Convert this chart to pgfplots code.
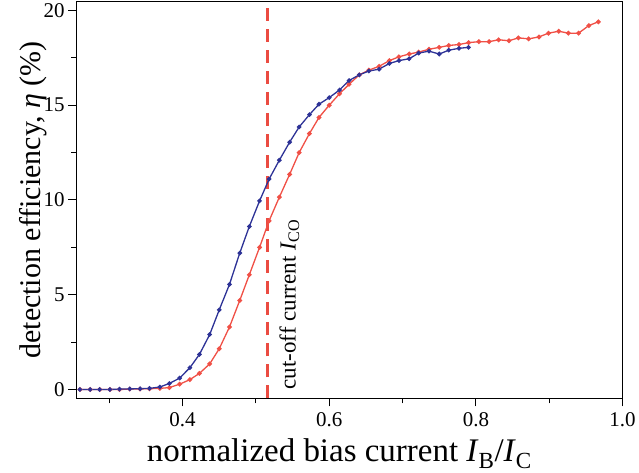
\documentclass[border=0pt]{standalone}
\usepackage{pgfplots}
\pgfplotsset{compat=1.18}
\usepackage{fontspec}
\setmainfont{Liberation Serif}

\definecolor{curveblue}{RGB}{45,50,150}
\definecolor{curvered}{RGB}{240,80,70}
\definecolor{cutred}{RGB}{235,75,65}

\begin{document}
\begin{tikzpicture}
  \begin{axis}[
      width=547pt, height=397pt, scale only axis,
      xmin=0.255, xmax=1.0,
      ymin=-0.47, ymax=20.45,
      xtick={0.4,0.6,0.8,1.0},
      minor xtick={0.3,0.5,0.7,0.9},
      ytick={0,5,10,15,20},
      minor ytick={2.5,7.5,12.5,17.5},
      xticklabels={0.4,0.6,0.8,1.0},
      tick align=outside,
      tick pos=left,
      major tick length=8pt,
      minor tick length=5pt,
      every tick/.style={black, line width=0.9pt},
      axis line style={black, line width=1pt},
      ticklabel style={font=\fontsize{21}{24}\selectfont},
      xticklabel style={yshift=-3pt},
      /pgf/number format/assume math mode=true,
      xlabel={normalized bias current \textit{I}\textsubscript{B}/\textit{I}\textsubscript{C}},
      ylabel={detection efficiency, \textit{η} (\%)},
      xlabel style={font=\fontsize{33}{36}\selectfont, yshift=-5pt, xshift=-10pt},
      ylabel style={font=\fontsize{30}{33}\selectfont, yshift=-10pt},
      clip=false,
    ]
    % cut-off current marker
    \addplot[cutred, line width=3.5pt, dash pattern=on 13pt off 8pt, no marks]
      coordinates {(0.516,-0.47) (0.516,20.45)};

    % red curve
    \addplot[curvered, line width=1.3pt, mark=*, mark size=1.7pt]
      coordinates {
        (0.260,0.00) (0.274,0.00) (0.287,0.00) (0.301,0.00) (0.314,0.00)
        (0.328,0.02) (0.342,0.03) (0.355,0.04) (0.369,0.06) (0.382,0.10)
        (0.396,0.28) (0.410,0.52) (0.423,0.85) (0.437,1.35) (0.450,2.15)
        (0.464,3.30) (0.478,4.70) (0.491,6.05) (0.505,7.50) (0.518,8.90)
        (0.532,10.15) (0.546,11.35) (0.559,12.50) (0.573,13.50) (0.586,14.35)
        (0.600,15.00) (0.614,15.60) (0.627,16.10) (0.641,16.60) (0.654,16.85)
        (0.668,17.05) (0.682,17.35) (0.695,17.55) (0.709,17.70) (0.722,17.80)
        (0.736,17.95) (0.750,18.05) (0.763,18.15) (0.777,18.20) (0.790,18.30)
        (0.804,18.35) (0.818,18.35) (0.831,18.45) (0.845,18.40) (0.858,18.55)
        (0.872,18.50) (0.886,18.60) (0.899,18.80) (0.913,18.90) (0.926,18.80)
        (0.940,18.80) (0.954,19.20) (0.967,19.40)
      };

    % blue curve
    \addplot[curveblue, line width=1.3pt, mark=*, mark size=1.6pt]
      coordinates {
        (0.260,0.00) (0.274,0.00) (0.287,0.00) (0.301,0.00) (0.314,0.02)
        (0.328,0.03) (0.342,0.04) (0.355,0.06) (0.369,0.13) (0.382,0.32)
        (0.396,0.60) (0.410,1.15) (0.423,1.85) (0.437,2.90) (0.450,4.20)
        (0.464,5.55) (0.478,7.20) (0.491,8.60) (0.505,9.95) (0.518,11.10)
        (0.532,12.10) (0.546,13.05) (0.559,13.85) (0.573,14.50) (0.586,15.05)
        (0.600,15.40) (0.614,15.80) (0.627,16.30) (0.641,16.60) (0.654,16.80)
        (0.668,16.90) (0.682,17.20) (0.695,17.35) (0.709,17.45) (0.722,17.75)
        (0.736,17.85) (0.750,17.70) (0.763,17.90) (0.777,18.00) (0.790,18.05)
      };

    \node[rotate=90, anchor=base west, inner sep=0pt,
          font=\fontsize{23}{26}\selectfont]
      at (axis cs:0.554,0.0) {cut-off current \textit{I}\textsubscript{CO}};
  \end{axis}
  % white margin to the left of the y label, as in the reference
  \path ([xshift=-16pt]current bounding box.west);
\end{tikzpicture}
\end{document}
